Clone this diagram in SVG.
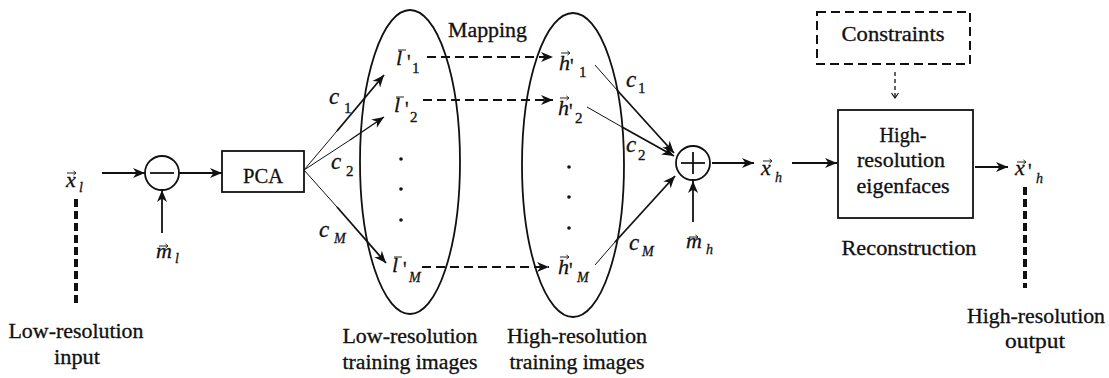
<svg xmlns="http://www.w3.org/2000/svg" width="1109" height="378" viewBox="0 0 1109 378" font-family="'Liberation Serif', 'Times New Roman', serif">
<style>
text{font-family:'Liberation Serif','Times New Roman',serif;fill:#111;stroke:#111;stroke-width:0.3}
.lb{font-size:20px}
.c{text-anchor:middle}
.v{font-size:22px;font-style:italic}
.vc{font-size:23px;font-style:italic}
.s{font-size:15px}
.si{font-size:14px;font-style:italic}
.ln{stroke:#111;stroke-width:1.8;fill:none}
.th{stroke:#111;stroke-width:1;fill:none}
.ar{marker-end:url(#ah)}
.map{stroke:#111;stroke-width:2;stroke-dasharray:9 5;fill:none;marker-end:url(#ah)}
.thk{stroke:#111;stroke-width:4;stroke-dasharray:8 4}
.acc{stroke:#222;stroke-width:1;fill:none}
</style>
<defs>
<marker id="ah" markerUnits="userSpaceOnUse" markerWidth="13" markerHeight="11" refX="12" refY="5" orient="auto" overflow="visible">
<path d="M0,0 L12,5 L0,10 L3.5,5 z" fill="#111"/>
</marker>
<marker id="vh" markerUnits="userSpaceOnUse" markerWidth="8" markerHeight="8" refX="5" refY="3.5" orient="auto" overflow="visible">
<path d="M0,0 L5,3.5 L0,7" fill="none" stroke="#111" stroke-width="1.2"/>
</marker>
<path id="vec" d="M0,0 h9 m-2.5,-2 l2.5,2 l-2.5,2" class="acc"/>
</defs>

<g id="connectors">
<line x1="102" y1="173" x2="145" y2="173" class="ln ar"/>
<line x1="179" y1="173" x2="222" y2="173" class="ln ar"/>
<line x1="162" y1="233" x2="162" y2="190" class="ln ar"/>
<line x1="304" y1="170" x2="337" y2="131" class="th"/>
<line x1="337" y1="131" x2="384" y2="75" class="ln ar"/>
<line x1="304" y1="170" x2="350" y2="140" class="th"/>
<line x1="350" y1="140" x2="384" y2="117" class="ln ar" style="stroke-width:1.4"/>
<line x1="304" y1="170" x2="337" y2="207" class="th"/>
<line x1="337" y1="207" x2="386" y2="263" class="ln ar"/>
<line x1="427" y1="57" x2="553" y2="57" class="map"/>
<line x1="423" y1="100" x2="553" y2="100" class="map"/>
<line x1="422" y1="267" x2="549" y2="267" class="map"/>
<line x1="595" y1="65" x2="617" y2="90" class="th"/>
<line x1="617" y1="90" x2="674" y2="153" class="ln ar"/>
<line x1="587" y1="107" x2="622" y2="127" class="th"/>
<line x1="622" y1="127" x2="674" y2="156" class="ln ar"/>
<line x1="595" y1="265" x2="615" y2="242" class="th"/>
<line x1="615" y1="242" x2="675" y2="176" class="ln ar"/>
<line x1="693" y1="222" x2="693" y2="181" class="ln ar"/>
<line x1="712" y1="163" x2="754" y2="163" class="ln ar"/>
<line x1="792" y1="163" x2="837" y2="163" class="ln ar"/>
<line x1="975" y1="167" x2="1008" y2="167" class="ln ar"/>
<line x1="895" y1="72" x2="895" y2="98" stroke="#111" stroke-width="1.3" stroke-dasharray="4 3" marker-end="url(#vh)"/>
</g>

<g id="input">
<line x1="76" y1="199" x2="76" y2="303" class="thk"/>
<text x="66" y="187" class="v">x</text>
<use href="#vec" x="67" y="173"/>
<text x="79" y="192" class="si">l</text>
<text x="76" y="338" class="lb c" textLength="135" lengthAdjust="spacingAndGlyphs">Low-resolution</text>
<text x="77" y="364" class="lb c" textLength="46" lengthAdjust="spacingAndGlyphs">input</text>
</g>

<g id="subtract">
<circle cx="162" cy="173" r="17" class="ln"/>
<line x1="150" y1="173" x2="174" y2="173" class="ln"/>
<text x="156" y="258" class="v">m</text>
<use href="#vec" x="159" y="246"/>
<text x="175" y="263" class="si">l</text>
</g>

<g id="pca">
<rect x="222" y="151" width="82" height="41" class="ln"/>
<text x="263" y="183" class="lb c" textLength="40" lengthAdjust="spacingAndGlyphs">PCA</text>
<text x="329" y="104" class="vc">c</text><text x="344" y="113" class="s">1</text>
<text x="331" y="169" class="vc">c</text><text x="346" y="176" class="s">2</text>
<text x="319" y="237" class="vc">c</text><text x="334" y="243" class="si">M</text>
</g>

<g id="low-res-training">
<ellipse cx="410" cy="162" rx="50" ry="152" class="ln"/>
<text x="396" y="65" class="v">l</text><line x1="398" y1="50" x2="406" y2="50" class="acc"/>
<text x="407" y="69" class="lb">'</text><text x="412" y="73" class="s">1</text>
<text x="394" y="112" class="v">l</text><line x1="396" y1="97" x2="404" y2="97" class="acc"/>
<text x="405" y="116" class="lb">'</text><text x="410" y="122" class="s">2</text>
<circle cx="401" cy="159" r="1.8" fill="#111"/>
<circle cx="401" cy="189" r="1.8" fill="#111"/>
<circle cx="401" cy="220" r="1.8" fill="#111"/>
<text x="392" y="272" class="v">l</text><line x1="394" y1="257" x2="402" y2="257" class="acc"/>
<text x="403" y="276" class="lb">'</text><text x="409" y="282" class="si">M</text>
<text x="410" y="343" class="lb c" textLength="135" lengthAdjust="spacingAndGlyphs">Low-resolution</text>
<text x="410" y="369" class="lb c" textLength="135" lengthAdjust="spacingAndGlyphs">training images</text>
</g>

<text id="mapping" x="448" y="37" class="lb" textLength="79" lengthAdjust="spacingAndGlyphs">Mapping</text>

<g id="high-res-training">
<ellipse cx="573" cy="165" rx="51" ry="152" class="ln"/>
<text x="559" y="70" class="v">h</text><use href="#vec" x="561" y="53"/>
<text x="570" y="73" class="lb">'</text><text x="579" y="77" class="s">1</text>
<text x="558" y="115" class="v">h</text><use href="#vec" x="560" y="98"/>
<text x="569" y="118" class="lb">'</text><text x="575" y="123" class="s">2</text>
<circle cx="569" cy="167" r="1.8" fill="#111"/>
<circle cx="569" cy="197" r="1.8" fill="#111"/>
<circle cx="569" cy="228" r="1.8" fill="#111"/>
<text x="558" y="274" class="v">h</text><use href="#vec" x="560" y="257"/>
<text x="569" y="277" class="lb">'</text><text x="577" y="282" class="si">M</text>
<text x="626" y="87" class="vc">c</text><text x="638" y="93" class="s">1</text>
<text x="626" y="152" class="vc">c</text><text x="638" y="160" class="s">2</text>
<text x="629" y="250" class="vc">c</text><text x="642" y="256" class="si">M</text>
<text x="577" y="343" class="lb c" textLength="140" lengthAdjust="spacingAndGlyphs">High-resolution</text>
<text x="577" y="369" class="lb c" textLength="135" lengthAdjust="spacingAndGlyphs">training images</text>
</g>

<g id="add">
<circle cx="693" cy="163" r="17" class="ln"/>
<line x1="681" y1="163" x2="705" y2="163" class="ln"/>
<line x1="693" y1="152" x2="693" y2="174" class="ln"/>
<text x="686" y="248" class="v">m</text>
<use href="#vec" x="689" y="237"/>
<text x="706" y="254" class="si">h</text>
<text x="761" y="175" class="v">x</text>
<use href="#vec" x="763" y="161"/>
<text x="775" y="182" class="si">h</text>
</g>

<g id="constraints">
<rect x="817" y="12" width="153" height="52" fill="none" stroke="#111" stroke-width="2" stroke-dasharray="9 5"/>
<text x="893" y="41" class="lb c" textLength="103" lengthAdjust="spacingAndGlyphs">Constraints</text>
</g>

<g id="eigenfaces">
<rect x="838" y="110" width="135" height="108" class="ln"/>
<text x="903" y="142" class="lb c" textLength="47" lengthAdjust="spacingAndGlyphs">High-</text>
<text x="901" y="167" class="lb c" textLength="88" lengthAdjust="spacingAndGlyphs">resolution</text>
<text x="903" y="193" class="lb c" textLength="93" lengthAdjust="spacingAndGlyphs">eigenfaces</text>
<text x="909" y="255" class="lb c" textLength="135" lengthAdjust="spacingAndGlyphs">Reconstruction</text>
</g>

<g id="output">
<text x="1015" y="175" class="v">x</text>
<use href="#vec" x="1017" y="162"/>
<text x="1028" y="178" class="lb">'</text>
<text x="1036" y="183" class="si">h</text>
<line x1="1025" y1="187" x2="1025" y2="288" class="thk"/>
<text x="1036" y="323" class="lb c" textLength="138" lengthAdjust="spacingAndGlyphs">High-resolution</text>
<text x="1035" y="348" class="lb c" textLength="60" lengthAdjust="spacingAndGlyphs">output</text>
</g>
</svg>
